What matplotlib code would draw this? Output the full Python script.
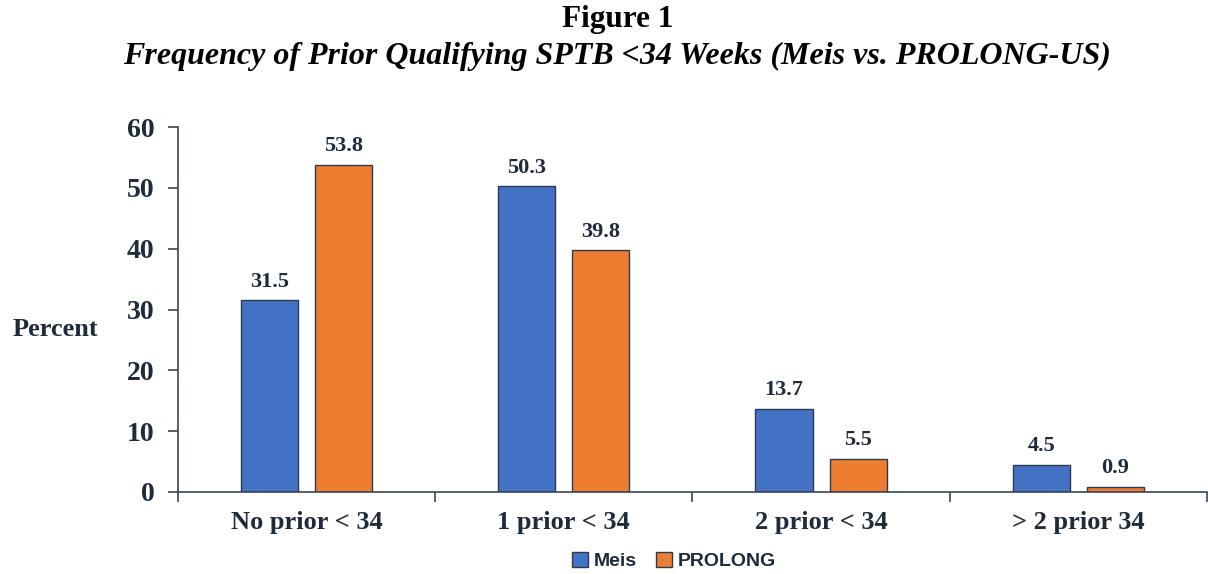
import matplotlib.pyplot as plt
import numpy as np

categories = ['No prior < 34', '1 prior < 34', '2 prior < 34', '> 2 prior 34']
meis = [31.5, 50.3, 13.7, 4.5]
prolong = [53.8, 39.8, 5.5, 0.9]
yticks = [0, 10, 20, 30, 40, 50, 60]

text_color = '#1f2a3a'
serif = ['Liberation Serif', 'DejaVu Serif']

fig = plt.figure(figsize=(12.08, 5.74), dpi=100)
ax = fig.add_axes([0.1474, 0.1429, 0.8516, 0.6358])

x = np.arange(len(categories))
w = 0.222
off = 0.144
b1 = ax.bar(x - off, meis, w, color='#4472C4', edgecolor='#2b3a4f', linewidth=1, label='Meis')
b2 = ax.bar(x + off, prolong, w, color='#ED7D31', edgecolor='#2b3a4f', linewidth=1, label='PROLONG')

for bars, vals in [(b1, meis), (b2, prolong)]:
    for rect, v in zip(bars, vals):
        ax.annotate(f'{v:.1f}', (rect.get_x() + rect.get_width() / 2, v),
                    xytext=(0, 6), textcoords='offset points', ha='center', va='bottom',
                    fontsize=16, fontweight='bold', family=serif, color=text_color)

ax.set_xlim(-0.5, len(categories) - 0.5)
ax.set_ylim(0, 60)
ax.set_yticks(yticks)
ax.set_yticklabels([str(t) for t in yticks], fontsize=20, fontweight='bold', family=serif, color=text_color)
ax.set_xticks(x)
ax.set_xticklabels(categories, fontsize=19, fontweight='bold', family=serif, color=text_color)
ax.set_xticks(np.arange(len(categories) + 1) - 0.5, minor=True)
ax.tick_params(axis='x', which='major', length=0, pad=14)
ax.tick_params(axis='x', which='minor', length=7, width=1.2, color='#3a4556', direction='out')
ax.tick_params(axis='y', length=7, width=1.2, color='#3a4556', pad=10)

for s in ['top', 'right']:
    ax.spines[s].set_visible(False)
for s in ['left', 'bottom']:
    ax.spines[s].set_color('#3a4556')
    ax.spines[s].set_linewidth(1.2)

fig.text(55 / 1208, 1 - 330 / 574, 'Percent', ha='center', va='center',
         fontsize=19, fontweight='bold', family=serif, color=text_color)

fig.text(0.511, 1 - 19 / 574, 'Figure 1', ha='center', va='center',
         fontsize=22.5, fontweight='bold', family=serif, color='black')
fig.text(0.511, 1 - 56 / 574, 'Frequency of Prior Qualifying SPTB <34 Weeks (Meis vs. PROLONG-US)',
         ha='center', va='center', fontsize=23, fontweight='bold', style='italic',
         family=serif, color='black')

leg = fig.legend(loc='center', bbox_to_anchor=(674 / 1208, 1 - 561 / 574), ncol=2, frameon=False,
                 prop={'family': 'Liberation Sans', 'weight': 'bold', 'size': 14},
                 handlelength=0.8, handleheight=0.8, handletextpad=0.3, columnspacing=1.0)
for t in leg.get_texts():
    t.set_color(text_color)

fig.savefig('out.png', dpi=100)
